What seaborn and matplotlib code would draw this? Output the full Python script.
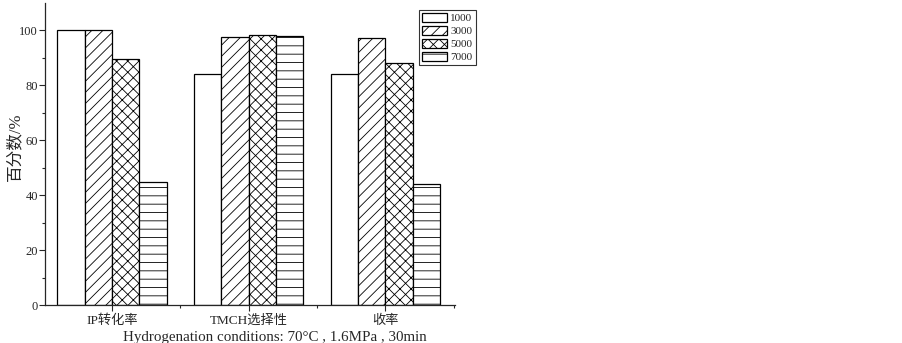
import matplotlib
matplotlib.use("Agg")
import matplotlib.pyplot as plt
import seaborn as sns
import pandas as pd
from matplotlib.ticker import FixedLocator

categories = ["IP转化率", "TMCH选择性", "收率"]
series_names = ["1000", "3000", "5000", "7000"]
values_1000 = [100, 84, 84]
values_3000 = [100, 97.5, 97.2]
values_5000 = [89.5, 98.5, 88]
values_7000 = [44.8, 98, 44]
hatches = ["", "///", "xxx", "--"]

rows = []
for name, vals in zip(series_names, [values_1000, values_3000, values_5000, values_7000]):
    for c, v in zip(categories, vals):
        rows.append({"cat": c, "series": name, "value": v})
df = pd.DataFrame(rows)

sns.set_style("ticks")
fam = ["Liberation Serif", "Noto Sans CJK SC"]
plt.rcParams["font.family"] = fam
plt.rcParams["hatch.linewidth"] = 0.6
plt.rcParams["hatch.color"] = "black"

fig = plt.figure(figsize=(9.03, 3.43), dpi=100)
ax = fig.add_axes([45/903, 38/343, 410/903, 302/343])

sns.barplot(data=df, x="cat", y="value", hue="series", order=categories,
            hue_order=series_names, color="white", edgecolor="black",
            linewidth=0.9, width=0.8, ax=ax, legend=False, saturation=1)

for cont, h in zip(ax.containers, hatches):
    for p in cont.patches:
        p.set_facecolor("white")
        p.set_edgecolor("black")
        p.set_hatch(h)

ax.set_ylim(0, 110)
ax.set_xlim(-0.49, 2.51)
ax.yaxis.set_major_locator(FixedLocator([0, 20, 40, 60, 80, 100]))
ax.yaxis.set_minor_locator(FixedLocator([10, 30, 50, 70, 90]))
ax.xaxis.set_minor_locator(FixedLocator([0.5, 1.5, 2.5]))
ax.tick_params(axis="y", which="major", direction="out", length=4, width=0.8, labelsize=9, pad=1)
ax.tick_params(axis="both", which="minor", direction="out", length=2.2, width=0.8)
ax.tick_params(axis="x", which="major", direction="out", length=4, width=0.8, labelsize=9.5, pad=3)
for s in ["top", "right"]:
    ax.spines[s].set_visible(False)
for s in ["left", "bottom"]:
    ax.spines[s].set_linewidth(0.9)

ax.set_xlabel("")
ax.set_ylabel("百分数/%", fontsize=12, family=fam)
ax.yaxis.set_label_coords(-22/410, 0.523)
fig.text(275/903, 1 - 337/343, "Hydrogenation conditions: 70°C , 1.6MPa , 30min",
         ha="center", va="center", fontsize=10.8, family=fam)

leg = fig.legend(ax.containers, series_names, loc="upper left",
                 bbox_to_anchor=(419/903, 1 - 10/343), fontsize=8,
                 frameon=True, fancybox=False, edgecolor="black",
                 handlelength=2.2, handleheight=0.8, labelspacing=0.25,
                 handletextpad=0.3, borderpad=0.3, borderaxespad=0)
leg.get_frame().set_linewidth(0.8)

fig.savefig("out.png", dpi=100)
